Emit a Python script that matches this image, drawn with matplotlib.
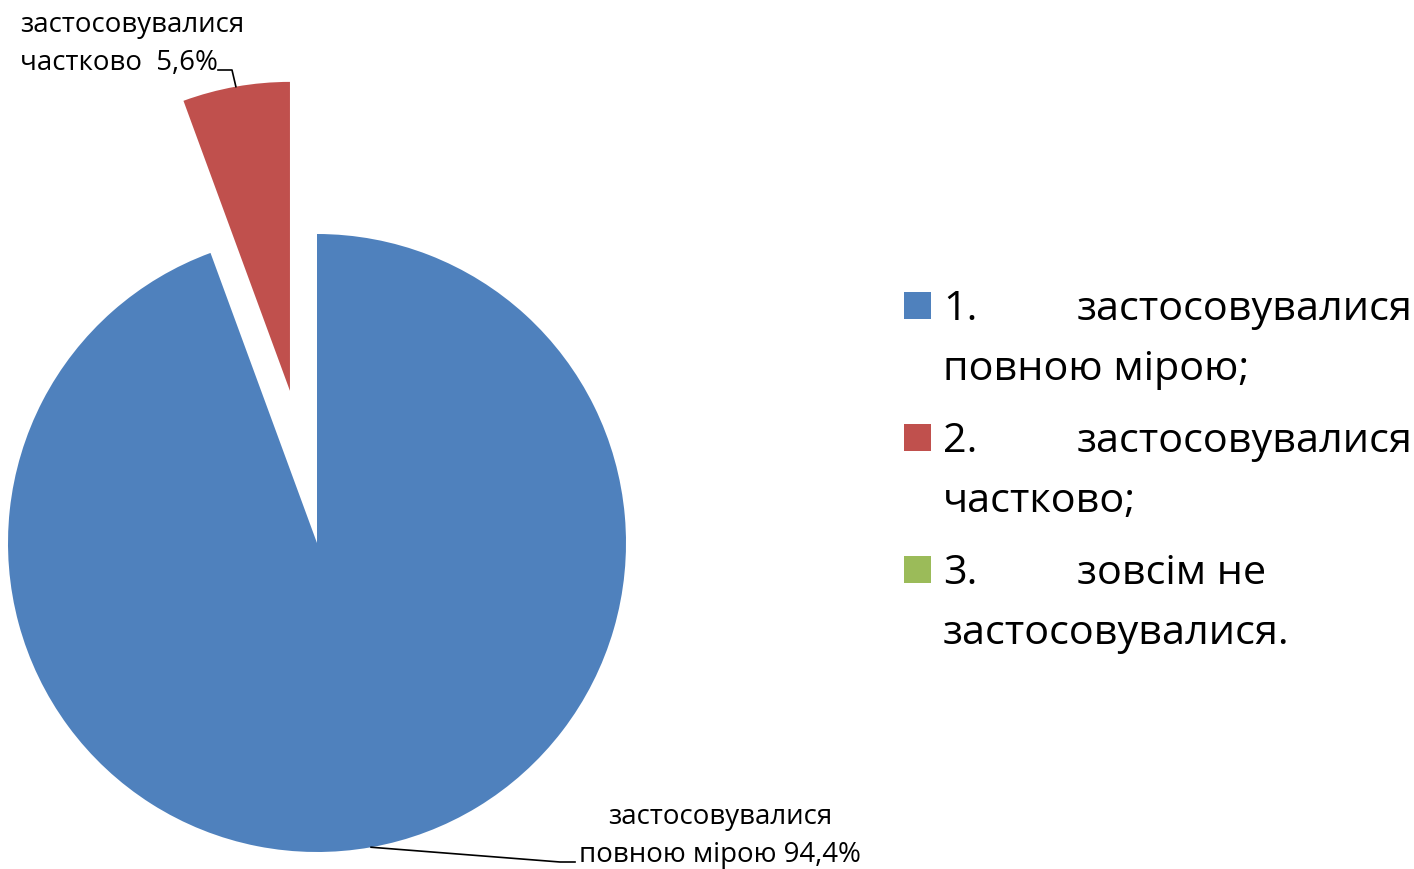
import numpy as np
import matplotlib
matplotlib.use('Agg')
import matplotlib.pyplot as plt
from matplotlib.patches import Rectangle

plt.rcParams['font.family'] = ['Open Sans', 'DejaVu Sans']

# data
categories = ['застосовувалися повною мірою', 'застосовувалися частково', 'зовсім не застосовувалися']
shares = [94.4, 5.6, 0.0]
colors = ['#4F81BD', '#C0504D', '#9BBB59']
explode = [0, 0.5, 0]
legend_num = ['1.', '2.', '3.']
legend_first = ['застосовувалися', 'застосовувалися', 'зовсім не']
legend_second = ['повною мірою;', 'частково;', 'застосовувалися.']

W, H = 1414, 869
fig = plt.figure(figsize=(W / 100, H / 100), dpi=100)
ax = fig.add_axes([0, 0, 1, 1])

cx, cy, R = 317, 326, 309
# matplotlib's explode is in data units, so scale by the radius
wedges, _ = ax.pie(shares, colors=colors, explode=[e * R for e in explode],
                   startangle=90, counterclock=False, center=(cx, cy), radius=R,
                   wedgeprops=dict(linewidth=0), frame=True)
ax.set_xlim(0, W)
ax.set_ylim(0, H)
ax.set_aspect('equal')
ax.axis('off')


def edge_point(w):
    mid = np.deg2rad((w.theta1 + w.theta2) / 2)
    x0, y0 = w.center
    return x0 + w.r * np.cos(mid), y0 + w.r * np.sin(mid)


lbl_size = 19.9
# blue label (bottom right)
ax.text(720, 33, 'застосовувалися\nповною мірою 94,4%', ha='center', va='center',
        fontsize=lbl_size, linespacing=1.45, multialignment='center')
ex, ey = edge_point(wedges[0])
ax.plot([ex, 560, 575], [ey, 7, 7], color='black', lw=1.2)

# red label (top left)
ax.text(20, 825, 'застосовувалися\nчастково  5,6%', ha='left', va='center',
        fontsize=lbl_size, linespacing=1.5, multialignment='left')
ex, ey = edge_point(wedges[1])
ax.plot([218, 232, ex], [799, 799, ey], color='black', lw=1.2)

# legend
leg_size = 29.8
base_y = [549, 417, 285]
for i in range(3):
    y0 = base_y[i]
    ax.add_patch(Rectangle((904, y0 + 1), 27, 27, facecolor=wedges[i].get_facecolor(),
                           edgecolor='none'))
    ax.text(943, y0, legend_num[i], ha='left', va='baseline', fontsize=leg_size)
    ax.text(1077, y0, legend_first[i], ha='left', va='baseline', fontsize=leg_size)
    ax.text(943, y0 - 60, legend_second[i], ha='left', va='baseline', fontsize=leg_size)

fig.savefig('out.png', dpi=100)
